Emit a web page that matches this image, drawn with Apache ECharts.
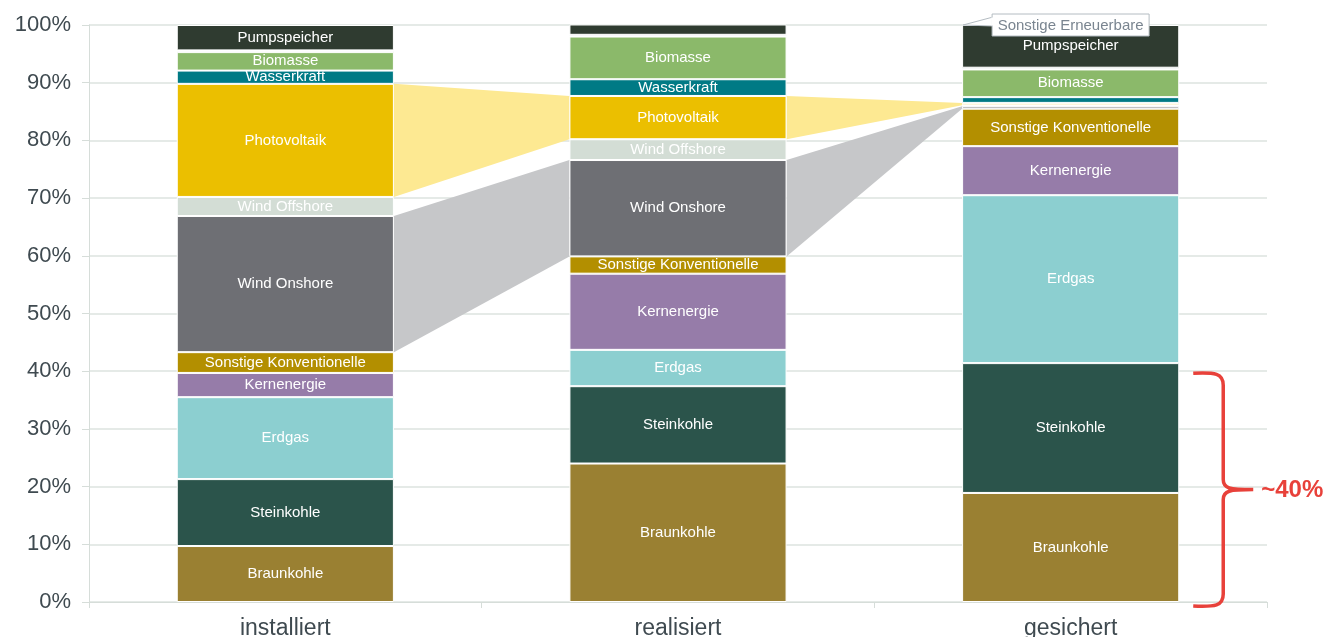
<!DOCTYPE html>
<html>
<head>
<meta charset="utf-8">
<script src="https://cdn.jsdelivr.net/npm/echarts@6/dist/echarts.min.js"></script>
<style>
html,body{margin:0;padding:0;background:#fff;}
#chart{width:1325px;height:637px;}
</style>
</head>
<body>
<div id="chart"></div>
<script>
const categories = ['installiert', 'realisiert', 'gesichert'];
const seriesNames = ['Braunkohle', 'Steinkohle', 'Erdgas', 'Kernenergie', 'Sonstige Konventionelle',
  'Wind Onshore', 'Wind Offshore', 'Photovoltaik', 'Wasserkraft', 'Biomasse', 'Sonstige Erneuerbare', 'Pumpspeicher'];
const braunkohle = [9.7, 24.0, 18.9];
const steinkohle = [11.6, 13.4, 22.5];
const erdgas = [14.2, 6.3, 29.1];
const kernenergie = [4.2, 13.2, 8.5];
const sonstigeKonventionelle = [3.6, 3.0, 6.5];
const windOnshore = [23.6, 16.7, 0.4];
const windOffshore = [3.3, 3.6, 0.2];
const photovoltaik = [19.6, 7.5, 0.4];
const wasserkraft = [2.3, 2.9, 1.0];
const biomasse = [3.2, 7.4, 4.8];
const sonstigeErneuerbare = [0.3, 0.3, 0.3];
const pumpspeicher = [4.4, 1.8, 7.4];
const yTicks = ['0%', '10%', '20%', '30%', '40%', '50%', '60%', '70%', '80%', '90%', '100%'];
const braceLabel = '~40%';
const braceRange = [0, 40];
const calloutText = 'Sonstige Erneuerbare';

const allData = [braunkohle, steinkohle, erdgas, kernenergie, sonstigeKonventionelle, windOnshore,
  windOffshore, photovoltaik, wasserkraft, biomasse, sonstigeErneuerbare, pumpspeicher];
const colors = ['#9a8032', '#2b544b', '#8ccfd0', '#967ca9', '#b38f00', '#6e6f74',
  '#d3ddd5', '#ebbf00', '#007a85', '#8bb96a', '#a9b4bd', '#2f3b30'];

const FONT = "'Liberation Sans', Arial, sans-serif";
const BAR_FRAC = 0.553;

function bottomOf(seriesIdx, catIdx) {
  let s = 0;
  for (let k = 0; k < seriesIdx; k++) s += allData[k][catIdx];
  return s;
}

const connectorDefs = [
  { idx: seriesNames.indexOf('Photovoltaik'), color: '#fde992' },
  { idx: seriesNames.indexOf('Wind Onshore'), color: '#c6c7c9' }
];
const connectorData = [];
const connectorColors = [];
connectorDefs.forEach(def => {
  for (let i = 0; i < categories.length - 1; i++) {
    const b0 = bottomOf(def.idx, i), t0 = b0 + allData[def.idx][i];
    const b1 = bottomOf(def.idx, i + 1), t1 = b1 + allData[def.idx][i + 1];
    connectorData.push([i, b0, t0, b1, t1]);
    connectorColors.push(def.color);
  }
});

const barSeries = seriesNames.map((name, si) => ({
  name: name,
  type: 'bar',
  stack: 'total',
  barWidth: (BAR_FRAC * 100) + '%',
  z: 3,
  data: allData[si],
  itemStyle: { color: colors[si], borderColor: '#ffffff', borderWidth: 1 },
  label: {
    show: true,
    position: 'inside',
    color: '#ffffff',
    fontSize: 15,
    fontFamily: FONT,
    formatter: p => (p.value >= 2 ? name : '')
  },
  emphasis: { disabled: true }
}));

const connectorSeries = {
  type: 'custom',
  z: 1,
  silent: true,
  data: connectorData,
  encode: { x: 0, y: [1, 2, 3, 4] },
  renderItem: function (params, api) {
    const i = api.value(0);
    const half = api.size([1, 0])[0] * BAR_FRAC / 2;
    const p0b = api.coord([i, api.value(1)]);
    const p0t = api.coord([i, api.value(2)]);
    const p1b = api.coord([i + 1, api.value(3)]);
    const p1t = api.coord([i + 1, api.value(4)]);
    return {
      type: 'polygon',
      shape: { points: [[p0t[0] + half, p0t[1]], [p1t[0] - half, p1t[1]], [p1b[0] - half, p1b[1]], [p0b[0] + half, p0b[1]]] },
      style: { fill: connectorColors[params.dataIndex] }
    };
  }
};

const braceSeries = {
  type: 'custom',
  z: 5,
  silent: true,
  data: [[2, braceRange[0], braceRange[1]]],
  encode: { x: 0, y: [1, 2] },
  renderItem: function (params, api) {
    const i = api.value(0);
    const half = api.size([1, 0])[0] * BAR_FRAC / 2;
    const pb = api.coord([i, api.value(1)]);
    const pt = api.coord([i, api.value(2)]);
    const right = pb[0] + half;
    const x0 = right + 14, x1 = right + 44, tip = right + 74;
    const yTop = pt[1] + 2, yBot = pb[1] + 4;
    const yMid = (yTop + yBot) / 2;
    const path = 'M' + x0 + ' ' + yTop +
      ' C' + (x1 - 8) + ' ' + (yTop - 1) + ' ' + x1 + ' ' + yTop + ' ' + x1 + ' ' + (yTop + 12) +
      ' L' + x1 + ' ' + (yMid - 10) +
      ' C' + x1 + ' ' + (yMid - 1) + ' ' + (x1 + 6) + ' ' + yMid + ' ' + tip + ' ' + yMid +
      ' M' + tip + ' ' + yMid +
      ' C' + (x1 + 6) + ' ' + yMid + ' ' + x1 + ' ' + (yMid + 1) + ' ' + x1 + ' ' + (yMid + 10) +
      ' L' + x1 + ' ' + (yBot - 12) +
      ' C' + x1 + ' ' + yBot + ' ' + (x1 - 8) + ' ' + (yBot + 1) + ' ' + x0 + ' ' + yBot;
    return {
      type: 'group',
      children: [
        { type: 'path', shape: { pathData: path }, style: { fill: 'none', stroke: '#e8413a', lineWidth: 3.5 } },
        { type: 'text', style: { text: braceLabel, x: tip + 8, y: yMid + 1, fill: '#e8413a', fontSize: 24, fontWeight: 'bold', fontFamily: FONT, align: 'left', verticalAlign: 'middle' } }
      ]
    };
  }
};

const calloutSeries = {
  type: 'custom',
  z: 6,
  silent: true,
  data: [[2, 100]],
  encode: { x: 0, y: 1 },
  renderItem: function (params, api) {
    const i = api.value(0);
    const half = api.size([1, 0])[0] * BAR_FRAC / 2;
    const p = api.coord([i, api.value(1)]);
    const ax = p[0] - half, ay = p[1];
    const bx = ax + 30, by = ay - 11, bw = 157, bh = 22;
    return {
      type: 'group',
      children: [
        { type: 'polygon', shape: { points: [[bx + 1, by + 3], [ax + 1, ay], [bx + 1, by + 12]] }, style: { fill: '#ffffff', stroke: '#b4bcc2', lineWidth: 1 } },
        { type: 'rect', shape: { x: bx, y: by, width: bw, height: bh }, style: { fill: '#ffffff', stroke: '#b4bcc2', lineWidth: 1 } },
        { type: 'rect', shape: { x: bx - 1, y: by + 3.5, width: 3, height: 8 }, style: { fill: '#ffffff' } },
        { type: 'text', style: { text: calloutText, x: bx + bw / 2, y: by + bh / 2 + 1, fill: '#7a8590', fontSize: 15, fontFamily: FONT, align: 'center', verticalAlign: 'middle' } }
      ]
    };
  }
};

const chart = echarts.init(document.getElementById('chart'));
chart.setOption({
  animation: false,
  backgroundColor: '#ffffff',
  grid: { left: 89, right: 58, top: 25, bottom: 35, containLabel: false, outerBoundsMode: 'none' },
  xAxis: {
    type: 'category',
    data: categories,
    axisLine: { show: true, lineStyle: { color: '#d6ddd9', width: 1 } },
    axisTick: { show: true, length: 6, lineStyle: { color: '#d6ddd9' } },
    axisLabel: { fontSize: 23, color: '#3f4a50', fontFamily: FONT, margin: 15 }
  },
  yAxis: {
    type: 'value',
    min: 0,
    max: 100,
    interval: 10,
    axisLine: { show: true, lineStyle: { color: '#d6ddd9', width: 1 } },
    axisTick: { show: true, length: 7, lineStyle: { color: '#d6ddd9' } },
    splitLine: { show: true, lineStyle: { color: '#dde3df', width: 1.5 } },
    axisLabel: {
      fontSize: 22, color: '#3f4a50', fontFamily: FONT, margin: 18,
      formatter: v => yTicks[Math.round(v / 10)]
    }
  },
  series: [connectorSeries].concat(barSeries, [braceSeries, calloutSeries])
});
</script>
</body>
</html>
